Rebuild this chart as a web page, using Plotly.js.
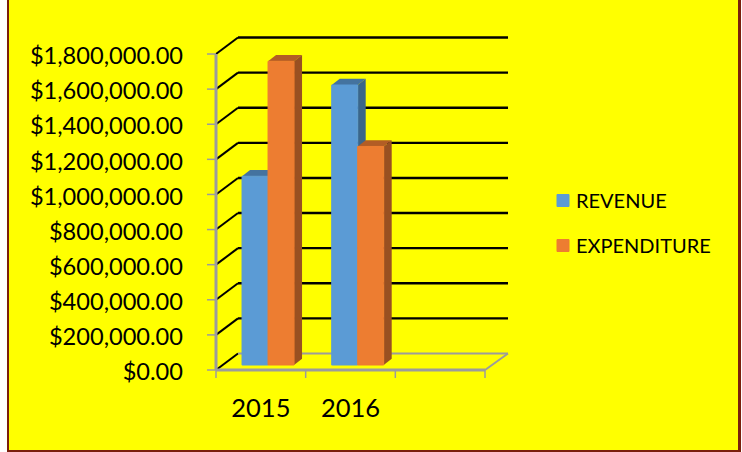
<!DOCTYPE html>
<html><head><meta charset="utf-8">
<script src="https://cdn.plot.ly/plotly-3.0.1.min.js"></script>
<style>
html,body{margin:0;padding:0;width:742px;height:452px;background:#fff;overflow:hidden}
#frame{position:absolute;left:7px;top:-5px;width:729px;height:453px;background:#ffff00;border-style:solid;border-color:#7a1f0c;border-width:2px 3px 2px 2px}
#chart{position:absolute;left:0;top:0;width:742px;height:452px}
</style></head><body>
<div id="frame"></div><div id="chart"></div>
<script>
var categories=[2015,2016];
var revenue=[1075000,1595000];
var expenditure=[1730000,1245000];
var tickValues=[0,200000,400000,600000,800000,1000000,1200000,1400000,1600000,1800000];
var boundaries=[-0.5,0.5,1.5,2.5];

var GREY='#9c9c9c',BLUE='#5b9bd5',ORANGE='#ed7d31';
var PX_X=89.67, PX_Y=35.11/200000;
var L=205,T=30,W=307,H=352;
var x0Axis=-0.5;
var xMin=x0Axis-11/PX_X,xMax=xMin+W/PX_X,yMin=-12/PX_Y,yMax=yMin+H/PX_Y;
var wallDx=22/PX_X,wallDy=16.5/PX_Y;
var barDx=7.2/PX_X,barDy=5/PX_Y;
var faceDx=8/PX_X,faceDy=6.3/PX_Y;
var barW=26/PX_X;
var backEnd=x0Axis+292/PX_X;
var lastB=boundaries[boundaries.length-1];
var topTick=tickValues[tickValues.length-1];

var shapes=[];
function seg(x0,y0,x1,y1,c,w){shapes.push({type:'line',xref:'x',yref:'y',x0:x0,y0:y0,x1:x1,y1:y1,line:{color:c,width:w},layer:'below'});}
tickValues.forEach(function(v){
  seg(x0Axis,v,x0Axis+wallDx,v+wallDy,'#000',2);
  if(v>0) seg(x0Axis+wallDx,v+wallDy,backEnd,v+wallDy,'#000',2.4);
});
seg(x0Axis+wallDx,wallDy,backEnd,wallDy,GREY,2);
seg(lastB,0,backEnd,wallDy,GREY,2);
seg(x0Axis,0,x0Axis,topTick,GREY,3);
seg(x0Axis,0,lastB,0,GREY,3);
boundaries.forEach(function(b){seg(b,0,b,-8/PX_Y,GREY,1.5);});
tickValues.forEach(function(v){seg(x0Axis,v,x0Axis-9/PX_X,v,GREY,1.5);});
function poly(pts,c){
  var d=pts.map(function(p,i){return (i?'L':'M')+p[0]+','+p[1];}).join(' ')+' Z';
  shapes.push({type:'path',xref:'x',yref:'y',path:d,fillcolor:c,line:{width:0},layer:'below'});
}
function faces(vals,off,top,side){
  vals.forEach(function(v,i){
    var x0=i+barDx+off, x1=x0+barW, y1=v+barDy, y0=barDy;
    poly([[x0,y1],[x1,y1],[x1+faceDx,y1+faceDy],[x0+faceDx,y1+faceDy]],top);
    poly([[x1,y0],[x1+faceDx,y0+faceDy],[x1+faceDx,y1+faceDy],[x1,y1]],side);
  });
}
faces(revenue,-barW,'#44739f','#3b6689');
faces(expenditure,0,'#b25d25','#995021');

var pos=categories.map(function(c,i){return i;});
var xFront=pos.map(function(p){return p+barDx;});
function barTrace(name,vals,color){
  return {type:'bar',name:name,x:xFront,y:vals,base:pos.map(function(){return barDy;}),
    marker:{color:color,line:{width:1,color:color}},legendgroup:name,hoverinfo:'skip'};
}
var data=[barTrace('REVENUE',revenue,BLUE),barTrace('EXPENDITURE',expenditure,ORANGE)];
var FONT='Lato, Carlito, sans-serif';
var layout={
  width:742,height:452,autosize:false,
  margin:{l:L,r:742-L-W,t:T,b:452-T-H,pad:0},
  paper_bgcolor:'rgba(0,0,0,0)',plot_bgcolor:'rgba(0,0,0,0)',
  barmode:'group',bargap:1-2*barW,bargroupgap:0,
  showlegend:true,
  legend:{x:(543-L)/W,y:(T+H-181)/H,xanchor:'left',yanchor:'top',bgcolor:'rgba(0,0,0,0)',borderwidth:0,
    font:{family:FONT,size:20,color:'#000'},tracegroupgap:16,traceorder:'grouped',itemwidth:30},
  xaxis:{type:'linear',range:[xMin,xMax],tickmode:'array',tickvals:pos,ticktext:categories.map(String),
    showgrid:false,zeroline:false,showline:false,ticks:'',ticklabelstandoff:8,
    tickfont:{family:FONT,size:25.5,color:'#000'},fixedrange:true},
  yaxis:{range:[yMin,yMax],tickmode:'array',tickvals:tickValues,tickformat:'$,.2f',
    showgrid:false,zeroline:false,showline:false,ticks:'',
    ticklabelstandoff:21,ticklabelshift:2,tickfont:{family:FONT,size:23.6,color:'#000'},fixedrange:true},
  shapes:shapes
};
Plotly.newPlot('chart',data,layout,{displayModeBar:false,staticPlot:true}).then(function(gd){
  gd.querySelectorAll('.legend .legendtext').forEach(function(t){
    t.setAttribute('x',parseFloat(t.getAttribute('x'))-7);
  });
});
</script></body></html>
